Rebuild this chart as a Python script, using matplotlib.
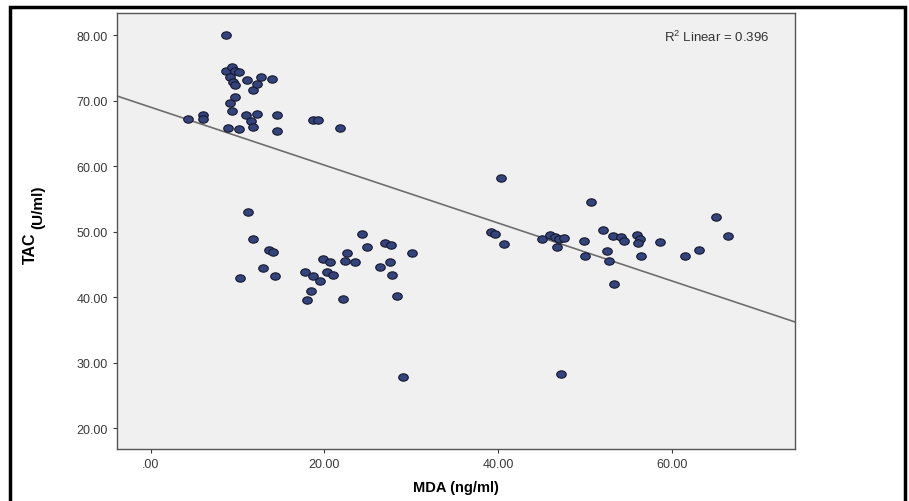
import matplotlib.pyplot as plt
import numpy as np
from matplotlib.markers import MarkerStyle
from matplotlib.transforms import Affine2D
from matplotlib.patches import Rectangle
from matplotlib.ticker import FuncFormatter

plt.rcParams['font.family'] = ['Liberation Sans', 'DejaVu Sans']
plt.rcParams['mathtext.fontset'] = 'custom'
plt.rcParams['mathtext.rm'] = 'Liberation Sans'

# high TAC / low MDA group
mda_a = [8.7, 4.3, 6.0, 6.0, 8.7, 9.3, 9.7, 9.1, 9.5, 9.7, 10.2, 11.1, 11.8, 12.2,
         12.7, 14.0, 9.7, 9.1, 9.4, 11.0, 12.2, 11.5, 11.8, 8.9, 10.2, 14.5, 14.5,
         18.7, 19.3, 21.8]
tac_a = [80.1, 67.2, 67.8, 67.2, 74.5, 75.1, 74.6, 73.7, 72.9, 72.4, 74.4, 73.2, 71.7, 72.5,
         73.7, 73.3, 70.5, 69.6, 68.4, 67.8, 67.9, 66.9, 66.0, 65.8, 65.7, 67.8, 65.4,
         67.0, 67.0, 65.9]

# low TAC / middle MDA group
mda_b = [11.2, 11.8, 13.6, 14.1, 12.9, 10.3, 14.3, 17.8, 18.7, 18.0, 18.5, 19.5, 19.8,
         20.6, 20.3, 21.0, 22.1, 22.6, 22.4, 23.5, 24.3, 24.9, 26.4, 27.0, 27.7, 27.5,
         27.8, 28.4, 30.1, 29.1]
tac_b = [53.0, 48.9, 47.2, 46.9, 44.4, 42.9, 43.2, 43.8, 43.2, 39.5, 40.9, 42.4, 45.8,
         45.3, 43.8, 43.4, 39.7, 46.7, 45.5, 45.3, 49.6, 47.6, 44.6, 48.2, 47.9, 45.3,
         43.4, 40.2, 46.7, 27.8]

# high MDA group
mda_c = [39.2, 39.6, 40.3, 40.7, 45.0, 46.0, 46.6, 47.0, 47.6, 46.8, 49.9, 50.0, 50.7,
         52.1, 52.5, 52.8, 53.3, 53.2, 54.2, 54.5, 56.0, 56.3, 56.1, 56.5, 58.6, 61.5,
         63.1, 65.1, 66.5, 47.3]
tac_c = [50.0, 49.7, 58.2, 48.1, 48.9, 49.5, 49.2, 48.9, 49.0, 47.6, 48.5, 46.3, 54.5,
         50.2, 47.0, 45.5, 42.0, 49.3, 49.2, 48.6, 49.5, 48.9, 48.2, 46.3, 48.4, 46.3,
         47.2, 52.3, 49.4, 28.3]

mda = np.array(mda_a + mda_b + mda_c)
tac = np.array(tac_a + tac_b + tac_c)

# fit line as drawn in the source chart
fit_intercept = 69.0
fit_slope = -0.442

x_ticks = [0, 20, 40, 60]
y_ticks = [20, 30, 40, 50, 60, 70, 80]
r2_label = r'R$^2$ Linear = 0.396'

fig = plt.figure(figsize=(9.09, 5.02), dpi=100)
ax = fig.add_axes([0.1287, 0.1036, 0.7459, 0.8685])
ax.set_facecolor('#f0f0f0')

ell = MarkerStyle('o', transform=Affine2D().scale(1.3, 1.0))
ax.scatter(mda, tac, s=28, marker=ell, facecolor='#34437a', edgecolor='#15182e',
           linewidth=0.8, zorder=3)

xl = np.array([-3.9, 74.2])
ax.plot(xl, fit_intercept + fit_slope * xl, color='#6e6e6e', linewidth=1.2, zorder=2)

ax.set_xlim(-3.9, 74.2)
ax.set_ylim(16.8, 83.4)
ax.set_xticks(x_ticks)
ax.set_yticks(y_ticks)
fmt = FuncFormatter(lambda v, p: ('%.2f' % v).lstrip('0') if v == 0 else '%.2f' % v)
ax.xaxis.set_major_formatter(fmt)
ax.yaxis.set_major_formatter(fmt)
ax.tick_params(labelsize=9, colors='#3a3a3a', length=3, width=0.8)

for s in ax.spines.values():
    s.set_color('#555555')
    s.set_linewidth(1.0)

ax.text(0.962, 0.946, r2_label, transform=ax.transAxes, ha='right', va='center',
        fontsize=9.5, color='#333333')

ax.set_xlabel('MDA (ng/ml)', fontsize=10.5, fontweight='bold', labelpad=7)
# y label: TAC with a large subscript unit
fig.text(30 / 909, 1 - 232 / 502, 'TAC', rotation=90, ha='center', va='top',
         fontsize=11.5, fontweight='bold')
fig.text(38 / 909, 1 - 229 / 502, '(U/ml)', rotation=90, ha='center', va='bottom',
         fontsize=11, fontweight='bold')

# outer black frame of the figure
fig.patches.append(Rectangle((10 / 909, -0.1), 895 / 909, 1.0 - 8 / 502 + 0.1,
                             transform=fig.transFigure, fill=False,
                             edgecolor='black', linewidth=2.5))

plt.savefig('out.png', dpi=100)
